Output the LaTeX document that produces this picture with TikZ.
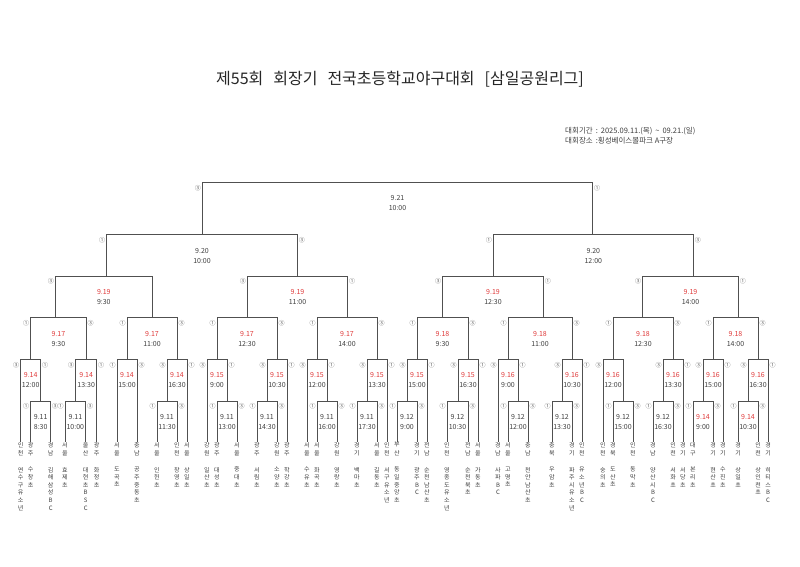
\documentclass[tikz,border=0pt]{standalone}
\usepackage{fontspec}
\setmainfont{Noto Sans CJK KR}
\definecolor{lc}{HTML}{505050}
\definecolor{tc}{HTML}{404040}
\definecolor{rd}{HTML}{E03A3A}
\definecolor{gc}{HTML}{606060}
\tikzset{
 bline/.style={draw=lc, line width=0.8pt},
 dt/.style={inner sep=0pt, font=\fontsize{7}{7}\selectfont, text=tc},
 rdt/.style={dt, text=rd},
 lb/.style={inner sep=0pt, font=\fontsize{6}{6}\selectfont, text=gc},
 reg/.style={inner sep=0pt, anchor=north, align=center, font=\fontsize{6}{8.3}\selectfont, text=tc},
 sch/.style={inner sep=0pt, anchor=north, align=center, font=\fontsize{6}{7.6}\selectfont, text=tc},
 info/.style={inner sep=0pt, anchor=west, font=\fontsize{7.5}{7.5}\selectfont, text=tc},
}
% name xL xR ytop ybotL ybotR {labels}
\newcommand\gm[7]{%
 \draw[bline] (#2,#5) |- (#3,#4) -- (#3,#6);
 \coordinate (#1) at ({(#2+#3)/2},#4);
 \lbpair{#1}{#2}{#3}{#4}#7}
\newcommand\lbpair[6]{%
 \node[lb] (#1L) at ({#2-4.5},{#4+5.5}) {#5};
 \node[lb] (#1R) at ({#3+4.5},{#4+5.5}) {#6};}
\newcommand\gt[4]{%
 \node[#2] (#1d) at ([yshift=-16pt]#1) {#3};
 \node[dt] (#1t) at ([yshift=-26pt]#1) {#4};}
\newcommand\tm[4]{%
 \node[reg] (r#1) at (#2,442) {#3};
 \node[sch] (s#1) at (#2,467) {#4};}
\newcommand\wsp{\hspace{10pt}}
\newcommand\isp{\hspace{3pt}}
\begin{document}
\begin{tikzpicture}[x=1pt,y=-1pt]
\fill[white] (0,0) rectangle (800,566);
\useasboundingbox (0,0) rectangle (800,566);
\node[inner sep=0pt, font=\fontsize{16}{16}\selectfont, text=black!85] (title) at (400,79) {제55회\wsp 회장기\wsp 전국초등학교야구대회\wsp [삼일공원리그]};
\node[info] (info1) at (565,131) {대회기간\isp:\isp 2025.09.11.(목)\isp\textasciitilde\isp 09.21.(일)};
\node[info] (info2) at (565,141) {대회장소\isp:횡성베이스볼파크 A구장};
% final
\gm{F}{202.3}{592.7}{182.3}{234.5}{234.5}{③①} \gt{F}{dt}{9.21}{10:00}
% semis
\gm{SA}{106.7}{297.3}{234.5}{276}{276}{①③} \gt{SA}{dt}{9.20}{10:00}
\gm{SB}{493.3}{693.3}{234.5}{276}{276}{①③} \gt{SB}{dt}{9.20}{12:00}
% quarters
\gm{QA}{55.3}{152.3}{276}{317.7}{317.7}{③{}} \gt{QA}{rdt}{9.19}{9:30}
\gm{QB}{247.3}{347.7}{276}{317.7}{317.7}{③①} \gt{QB}{rdt}{9.19}{11:00}
\gm{QC}{442.7}{543.3}{276}{317.7}{317.7}{③①} \gt{QC}{rdt}{9.19}{12:30}
\gm{QD}{642.7}{738.3}{276}{317.7}{317.7}{③①} \gt{QD}{rdt}{9.19}{14:00}
% round of 16 (9.17/9.18)
\gm{EA}{30.7}{86}{317.7}{359.3}{359.3}{①③} \gt{EA}{rdt}{9.17}{9:30}
\gm{EB}{127}{177}{317.7}{359.3}{359.3}{①③} \gt{EB}{rdt}{9.17}{11:00}
\gm{EC}{217}{277}{317.7}{359.3}{359.3}{①③} \gt{EC}{rdt}{9.17}{12:30}
\gm{ED}{317}{377}{317.7}{359.3}{359.3}{①③} \gt{ED}{rdt}{9.17}{14:00}
\gm{EE}{417}{468}{317.7}{359.3}{359.3}{①③} \gt{EE}{rdt}{9.18}{9:30}
\gm{EF}{508}{572}{317.7}{359.3}{359.3}{①③} \gt{EF}{rdt}{9.18}{11:00}
\gm{EG}{613}{673}{317.7}{359.3}{359.3}{①③} \gt{EG}{rdt}{9.18}{12:30}
\gm{EH}{713}{758}{317.7}{359.3}{359.3}{①③} \gt{EH}{rdt}{9.18}{14:00}
% round of 32
\gm{BA}{20.7}{40.7}{359.3}{441.7}{401}{③①} \gt{BA}{rdt}{9.14}{12:00}
\gm{BB}{75.7}{96.7}{359.3}{401}{441.7}{③①} \gt{BB}{rdt}{9.14}{13:30}
\gm{BC}{117}{137}{359.3}{441.7}{441.7}{①③} \gt{BC}{rdt}{9.14}{15:00}
\gm{BD}{167}{187}{359.3}{401}{441.7}{③①} \gt{BD}{rdt}{9.14}{16:30}
\gm{BE}{207}{227}{359.3}{441.7}{401}{③①} \gt{BE}{rdt}{9.15}{9:00}
\gm{BF}{267}{287}{359.3}{401}{441.7}{③①} \gt{BF}{rdt}{9.15}{10:30}
\gm{BG}{307}{327}{359.3}{441.7}{401}{③①} \gt{BG}{rdt}{9.15}{12:00}
\gm{BH}{367}{387}{359.3}{401}{441.7}{③①} \gt{BH}{rdt}{9.15}{13:30}
\gm{BI}{407}{427}{359.3}{401}{441.7}{③①} \gt{BI}{rdt}{9.15}{15:00}
\gm{BJ}{458}{478}{359.3}{401}{441.7}{③①} \gt{BJ}{rdt}{9.15}{16:30}
\gm{BK}{498}{518}{359.3}{441.7}{401}{③①} \gt{BK}{rdt}{9.16}{9:00}
\gm{BL}{562}{582}{359.3}{401}{441.7}{③①} \gt{BL}{rdt}{9.16}{10:30}
\gm{BM}{603}{623}{359.3}{441.7}{401}{③{}} \gt{BM}{rdt}{9.16}{12:00}
\gm{BN}{663}{683}{359.3}{401}{441.7}{③①} \gt{BN}{rdt}{9.16}{13:30}
\gm{BO}{703}{723}{359.3}{401}{441.7}{③①} \gt{BO}{rdt}{9.16}{15:00}
\gm{BP}{748}{768}{359.3}{401}{441.7}{③①} \gt{BP}{rdt}{9.16}{16:30}
% preliminaries
\gm{PA}{30.7}{50.7}{401}{441.7}{441.7}{①③} \gt{PA}{dt}{9.11}{8:30}
\gm{PB}{65}{85.7}{401}{441.7}{441.7}{①③} \gt{PB}{dt}{9.11}{10:00}
\gm{PD}{157}{177}{401}{441.7}{441.7}{①③} \gt{PD}{dt}{9.11}{11:30}
\gm{PE}{217}{237}{401}{441.7}{441.7}{①③} \gt{PE}{dt}{9.11}{13:00}
\gm{PF}{257}{277}{401}{441.7}{441.7}{①③} \gt{PF}{dt}{9.11}{14:30}
\gm{PG}{317}{337}{401}{441.7}{441.7}{①③} \gt{PG}{dt}{9.11}{16:00}
\gm{PH}{357}{377}{401}{441.7}{441.7}{①③} \gt{PH}{dt}{9.11}{17:30}
\gm{PI}{397}{417}{401}{441.7}{441.7}{①③} \gt{PI}{dt}{9.12}{9:00}
\gm{PJ}{447}{468}{401}{441.7}{441.7}{①③} \gt{PJ}{dt}{9.12}{10:30}
\gm{PK}{508}{528}{401}{441.7}{441.7}{①③} \gt{PK}{dt}{9.12}{12:00}
\gm{PL}{552}{572}{401}{441.7}{441.7}{①③} \gt{PL}{dt}{9.12}{13:30}
\gm{PM}{613}{633}{401}{441.7}{441.7}{①③} \gt{PM}{dt}{9.12}{15:00}
\gm{PN}{653}{673}{401}{441.7}{441.7}{①③} \gt{PN}{dt}{9.12}{16:30}
\gm{PO}{693}{713}{401}{441.7}{441.7}{①③} \gt{PO}{rdt}{9.14}{9:00}
\gm{PP}{738}{758}{401}{441.7}{441.7}{①③} \gt{PP}{rdt}{9.14}{10:30}
% teams
\tm{1}{20.7}{인\\천}{연\\수\\구\\유\\소\\년}
\tm{2}{30.7}{광\\주}{수\\창\\초}
\tm{3}{50.7}{경\\남}{김\\해\\삼\\성\\B\\C}
\tm{4}{65}{서\\울}{효\\제\\초}
\tm{5}{85.7}{울\\산}{대\\현\\초\\B\\S\\C}
\tm{6}{96.7}{광\\주}{화\\정\\초}
\tm{7}{117}{서\\울}{도\\곡\\초}
\tm{8}{137}{충\\남}{공\\주\\중\\동\\초}
\tm{9}{157}{서\\울}{인\\헌\\초}
\tm{10}{177}{인\\천}{창\\영\\초}
\tm{11}{187}{서\\울}{상\\일\\초}
\tm{12}{207}{강\\원}{일\\산\\초}
\tm{13}{217}{광\\주}{대\\성\\초}
\tm{14}{237}{서\\울}{중\\대\\초}
\tm{15}{257}{광\\주}{서\\림\\초}
\tm{16}{277}{강\\원}{소\\양\\초}
\tm{17}{287}{광\\주}{학\\강\\초}
\tm{18}{307}{서\\울}{수\\유\\초}
\tm{19}{317}{서\\울}{화\\곡\\초}
\tm{20}{337}{강\\원}{영\\랑\\초}
\tm{21}{357}{경\\기}{백\\마\\초}
\tm{22}{377}{서\\울}{길\\동\\초}
\tm{23}{387}{인\\천}{서\\구\\유\\소\\년}
\tm{24}{397}{부\\산}{동\\일\\중\\앙\\초}
\tm{25}{417}{경\\기}{광\\주\\B\\C}
\tm{26}{427}{전\\남}{순\\천\\남\\산\\초}
\tm{27}{447}{인\\천}{영\\종\\도\\유\\소\\년}
\tm{28}{468}{전\\남}{순\\천\\북\\초}
\tm{29}{478}{서\\울}{가\\동\\초}
\tm{30}{498}{경\\남}{사\\파\\B\\C}
\tm{31}{508}{서\\울}{고\\명\\초}
\tm{32}{528}{충\\남}{천\\안\\남\\산\\초}
\tm{33}{552}{충\\북}{우\\암\\초}
\tm{34}{572}{경\\기}{파\\주\\시\\유\\소\\년}
\tm{35}{582}{인\\천}{유\\소\\년\\B\\C}
\tm{36}{603}{인\\천}{숭\\의\\초}
\tm{37}{613}{경\\북}{도\\산\\초}
\tm{38}{633}{인\\천}{동\\막\\초}
\tm{39}{653}{경\\남}{양\\산\\시\\B\\C}
\tm{40}{673}{인\\천}{서\\화\\초}
\tm{41}{683}{경\\기}{서\\당\\초}
\tm{42}{693}{대\\구}{본\\리\\초}
\tm{43}{713}{경\\기}{현\\산\\초}
\tm{44}{723}{경\\기}{수\\진\\초}
\tm{45}{738}{경\\기}{상\\일\\초}
\tm{46}{758}{인\\천}{상\\인\\천\\초}
\tm{47}{768}{경\\기}{히\\티\\스\\B\\C}
\end{tikzpicture}
\end{document}
